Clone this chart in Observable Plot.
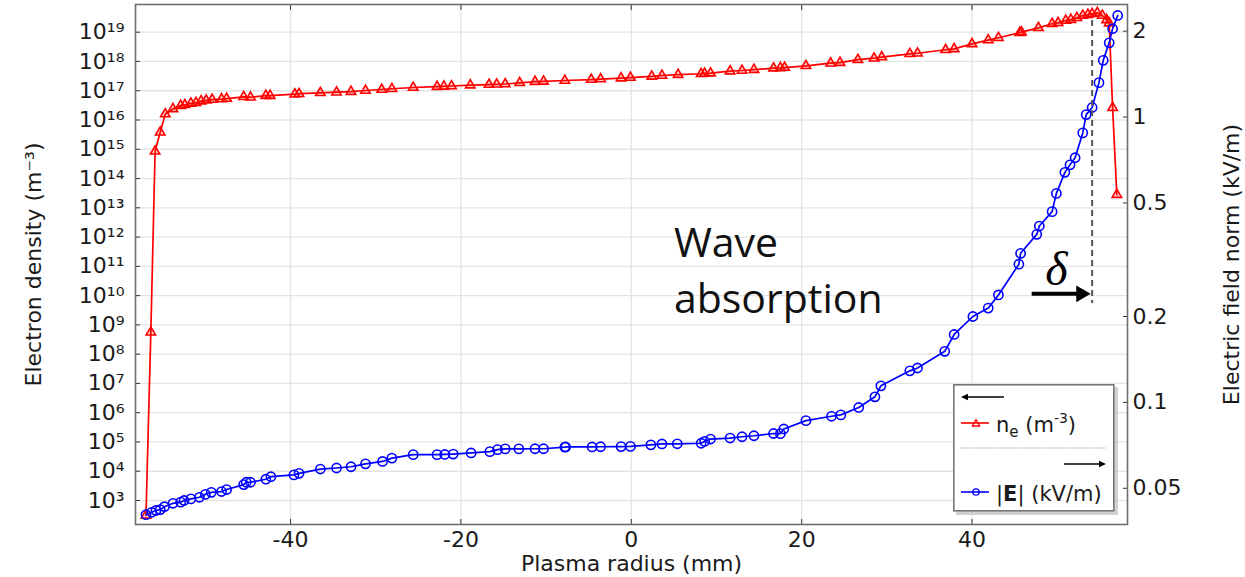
<!DOCTYPE html>
<html><head><meta charset="utf-8">
<script src="https://cdn.jsdelivr.net/npm/d3@7"></script>
<script src="https://cdn.jsdelivr.net/npm/@observablehq/plot@0.6"></script>
<style>
body{margin:0;background:#fff;}
#wrap{position:relative;width:1245px;height:577px;overflow:hidden;}
#legend{position:absolute;left:951px;top:382px;}
</style></head><body><div id="wrap"></div>
<script>
// ---- data ----
const radiusNe = [-56.97,-56.4,-55.9,-55.3,-54.7,-53.8,-52.9,-52.4,-51.7,-51.1,-50.5,-49.9,-49.2,-48.1,-47.5,-45.5,-44.7,-42.9,-42.4,-39.5,-39.0,-36.5,-34.6,-32.9,-31.2,-29.3,-28.1,-25.6,-22.8,-22.0,-21.1,-18.9,-16.7,-15.8,-14.8,-13.1,-11.3,-10.3,-7.8,-4.7,-3.6,-1.2,-0.1,2.4,3.6,5.5,8.2,8.6,9.3,11.6,13.0,14.4,16.7,17.5,18.0,20.5,23.4,24.5,26.6,28.5,29.4,32.7,33.6,36.9,37.9,40.0,41.9,43.1,45.6,45.8,47.8,49.4,50.1,51.0,51.6,52.3,53.0,53.6,54.1,54.7,55.3,55.8,56.1,56.5,57.0];
const electronDensity = [3.1e2,5.6e8,8.5e14,3.8e15,1.6e16,2.4e16,3.1e16,3.3e16,3.7e16,3.9e16,4.4e16,4.7e16,5.0e16,5.2e16,5.4e16,6.2e16,6.0e16,6.8e16,6.8e16,7.6e16,7.9e16,8.5e16,8.9e16,9.3e16,1.02e17,1.10e17,1.17e17,1.29e17,1.38e17,1.41e17,1.45e17,1.55e17,1.62e17,1.66e17,1.70e17,1.86e17,2.04e17,2.09e17,2.24e17,2.40e17,2.51e17,2.69e17,2.82e17,3.09e17,3.31e17,3.55e17,3.80e17,3.89e17,3.98e17,4.68e17,4.90e17,5.25e17,5.89e17,6.03e17,6.17e17,7.08e17,8.71e17,9.12e17,1.15e18,1.29e18,1.41e18,1.82e18,1.91e18,2.51e18,2.69e18,3.98e18,5.37e18,6.46e18,9.55e18,1.0e19,1.41e19,1.95e19,2.09e19,2.51e19,2.69e19,3.09e19,3.72e19,3.98e19,4.27e19,4.57e19,3.72e19,2.63e19,2.04e19,2.63e16,2.82e13];
const radiusE = [-56.97,-56.3,-55.8,-55.3,-54.8,-53.8,-52.9,-52.5,-51.7,-50.7,-50.0,-49.3,-48.1,-47.5,-45.5,-45.2,-44.7,-42.9,-42.3,-39.6,-39.0,-36.5,-34.6,-32.9,-31.2,-29.2,-28.1,-25.6,-22.8,-21.9,-20.9,-18.8,-16.6,-15.7,-14.8,-13.2,-11.3,-10.3,-7.8,-7.7,-4.6,-3.6,-1.2,-0.1,2.3,3.6,5.4,8.2,8.6,9.3,11.6,13.0,14.4,16.7,17.5,17.9,20.5,23.5,24.6,26.7,28.6,29.3,32.7,33.6,36.8,37.9,40.1,41.9,43.1,45.5,45.7,47.6,47.9,49.4,49.9,50.9,51.5,52.1,53.0,53.4,54.1,54.9,55.4,56.1,56.5,57.1];
const electricField = [0.0404,0.0412,0.0418,0.0421,0.0431,0.0443,0.0447,0.0453,0.0459,0.0465,0.0476,0.0484,0.0487,0.0495,0.0515,0.0525,0.0525,0.0538,0.0549,0.0557,0.0564,0.0584,0.0589,0.0595,0.0609,0.0621,0.0638,0.0656,0.0656,0.0657,0.0659,0.0665,0.0672,0.0683,0.0687,0.0687,0.0688,0.0688,0.0697,0.0698,0.0698,0.0699,0.0700,0.0701,0.0710,0.0715,0.0716,0.0719,0.0730,0.0744,0.0750,0.0758,0.0764,0.0778,0.0777,0.0807,0.0863,0.0894,0.0904,0.0960,0.1046,0.1143,0.129,0.132,0.151,0.173,0.200,0.214,0.238,0.305,0.333,0.388,0.415,0.466,0.54,0.64,0.68,0.72,0.88,1.02,1.08,1.32,1.58,1.82,2.04,2.27];

const xTicks = [-40, -20, 0, 20, 40];
const densityTickExponents = [3,4,5,6,7,8,9,10,11,12,13,14,15,16,17,18,19];
const fieldTicks = [0.05, 0.1, 0.2, 0.5, 1, 2];
const xDomain = [-58.2, 58.25];
const densityDomain = [10 ** 2.18, 10 ** 19.946];
const fieldDomain = [0.03733, 2.48];

// annotations
const annotationText = "Wave\nabsorption";
const annotationPos = {x: 5.0, y: 9.5e10};
const deltaPos = {x: 49.9, y: 7.5e10};
const deltaArrow = {x1: 47.0, x2: 52.8, y: 1.15e10};
const skinDepthX = 54.1;
const skinDepthY = [2.5e19, 5.4e9];

// ---- mapping of right axis (field) onto left log scale ----
const L = Math.log10;
const kDec = (L(densityDomain[1]) - L(densityDomain[0])) / (L(fieldDomain[1]) - L(fieldDomain[0]));
const fieldToY = e => 10 ** (L(densityDomain[0]) + (L(e) - L(fieldDomain[0])) * kDec);
const yToField = n => 10 ** (L(fieldDomain[0]) + (L(n) - L(densityDomain[0])) / kDec);

const sup = {"0":"⁰","1":"¹","2":"²","3":"³","4":"⁴","5":"⁵","6":"⁶","7":"⁷","8":"⁸","9":"⁹","-":"⁻"};
const powFmt = d => "10" + String(Math.round(L(d))).split("").map(c => sup[c]).join("");

const densityTicks = densityTickExponents.map(e => 10 ** e);
const neData = radiusNe.map((r, i) => ({r, v: electronDensity[i]}));
const eData = radiusE.map((r, i) => ({r, v: fieldToY(electricField[i])}));

const RED = "#ff0000", BLUE = "#0000ff";
const FS = 22;
const TXT = "#1a1a1a";

const chart = Plot.plot({
  width: 1245, height: 577,
  marginLeft: 135, marginRight: 118, marginTop: 4, marginBottom: 53,
  style: {fontFamily: "DejaVu Sans", fontSize: FS + "px", color: TXT, background: "white"},
  x: {domain: xDomain},
  y: {type: "log", domain: densityDomain},
  marks: [
    Plot.gridY(densityTicks, {stroke: "#e4e4e4", strokeOpacity: 1, strokeWidth: 1.3}),
    Plot.gridX(xTicks, {stroke: "#e4e4e4", strokeOpacity: 1, strokeWidth: 1.3}),
    Plot.axisX(xTicks, {anchor: "bottom", tickSize: 0, tickPadding: 7, tickFormat: d => String(d), label: null, fontSize: FS}),
    Plot.axisX(xTicks, {anchor: "bottom", tickSize: -5, tickFormat: () => "", label: null, stroke: "#333"}),
    Plot.axisX(xTicks, {anchor: "top", tickSize: -5, tickFormat: () => "", label: null, stroke: "#333"}),
    Plot.axisY(densityTicks, {anchor: "left", tickSize: 0, tickPadding: 11, tickFormat: powFmt, label: null, fontSize: FS}),
    Plot.axisY(densityTicks, {anchor: "left", tickSize: -5, tickFormat: () => "", label: null, stroke: "#333"}),
    Plot.axisY(fieldTicks.map(fieldToY), {anchor: "right", tickSize: 0, tickPadding: 5, tickFormat: d => String(+yToField(d).toPrecision(2)), label: null, fontSize: FS}),
    Plot.axisY(fieldTicks.map(fieldToY), {anchor: "right", tickSize: -5, tickFormat: () => "", label: null, stroke: "#333"}),
    Plot.text(["Electron density (m⁻³)"], {frameAnchor: "left", dx: -102, rotate: -90, textAnchor: "middle", lineAnchor: "middle", text: d => d, fontSize: FS, fill: TXT}),
    Plot.text(["Electric field norm (kV/m)"], {frameAnchor: "right", dx: 104, rotate: -90, textAnchor: "middle", lineAnchor: "middle", text: d => d, fontSize: FS, fill: TXT}),
    Plot.text(["Plasma radius (mm)"], {frameAnchor: "bottom", dy: 39, textAnchor: "middle", lineAnchor: "middle", text: d => d, fontSize: FS, fill: TXT}),
    Plot.frame({stroke: "#6e6e6e", strokeWidth: 1.6}),
    // density
    Plot.line(neData, {x: "r", y: "v", stroke: RED, strokeWidth: 1.7}),
    Plot.dot(neData, {x: "r", y: "v", symbol: "triangle", r: 3.5, stroke: RED, strokeWidth: 1.6, fill: RED, fillOpacity: 0.18}),
    // field
    Plot.line(eData, {x: "r", y: "v", stroke: BLUE, strokeWidth: 1.7}),
    Plot.dot(eData, {x: "r", y: "v", symbol: "circle", r: 4.6, stroke: BLUE, strokeWidth: 1.6, fill: "none"}),
    // annotations
    Plot.ruleX([skinDepthX], {y1: skinDepthY[0], y2: skinDepthY[1], stroke: "#555", strokeWidth: 2, strokeDasharray: "6,4"}),
    Plot.link([deltaArrow], {x1: "x1", x2: "x2", y1: "y", y2: "y", stroke: "black", strokeWidth: 4}),
    Plot.dot([deltaArrow], {x: "x2", y: "y", symbol: "triangle", rotate: 90, r: 6.2, fill: "black", stroke: "none"}),
    Plot.text([deltaPos], {x: "x", y: "y", text: () => "δ", fontFamily: "Liberation Serif", fontStyle: "italic", fontSize: 48, fill: "black"}),
    Plot.text([annotationPos], {x: "x", y: "y", text: () => annotationText, textAnchor: "start", lineHeight: 1.36, fontFamily: "Open Sans", fontSize: 41, fill: "#111"})
  ]
});
document.getElementById("wrap").appendChild(chart);

// ---- legend ----
const legend = `
<svg id="legend" width="172" height="138" xmlns="http://www.w3.org/2000/svg" font-family="DejaVu Sans" font-size="21">
  <rect x="5" y="5" width="162" height="128" fill="#bdbdbd" opacity="0.7"/>
  <rect x="2.8" y="2.8" width="160" height="126" fill="white" stroke="#777" stroke-width="1.6"/>
  <line x1="15" y1="15" x2="53" y2="15" stroke="black" stroke-width="1.4"/>
  <polygon points="10,15 17,11.8 17,18.2" fill="black"/>
  <line x1="10" y1="41" x2="38" y2="41" stroke="${RED}" stroke-width="1.6"/>
  <polygon points="25,37.5 21.3,44 28.7,44" fill="none" stroke="${RED}" stroke-width="1.3"/>
  <text x="45" y="50" fill="${TXT}">n<tspan font-size="15" dy="5">e</tspan><tspan dy="-5"> (m</tspan><tspan font-size="14" dy="-9">-3</tspan><tspan dy="9">)</tspan></text>
  <line x1="10" y1="66" x2="155" y2="66" stroke="#999" stroke-width="1" stroke-dasharray="1.5,1.5"/>
  <line x1="113" y1="82" x2="150" y2="82" stroke="black" stroke-width="1.4"/>
  <polygon points="155,82 148,78.8 148,85.2" fill="black"/>
  <line x1="10" y1="110" x2="38" y2="110" stroke="${BLUE}" stroke-width="1.6"/>
  <circle cx="25" cy="110" r="3.2" fill="none" stroke="${BLUE}" stroke-width="1.3"/>
  <text x="45" y="119" fill="${TXT}">|<tspan font-weight="bold">E</tspan>| (kV/m)</text>
</svg>`;
document.getElementById("wrap").insertAdjacentHTML("beforeend", legend);
</script>
</body></html>
